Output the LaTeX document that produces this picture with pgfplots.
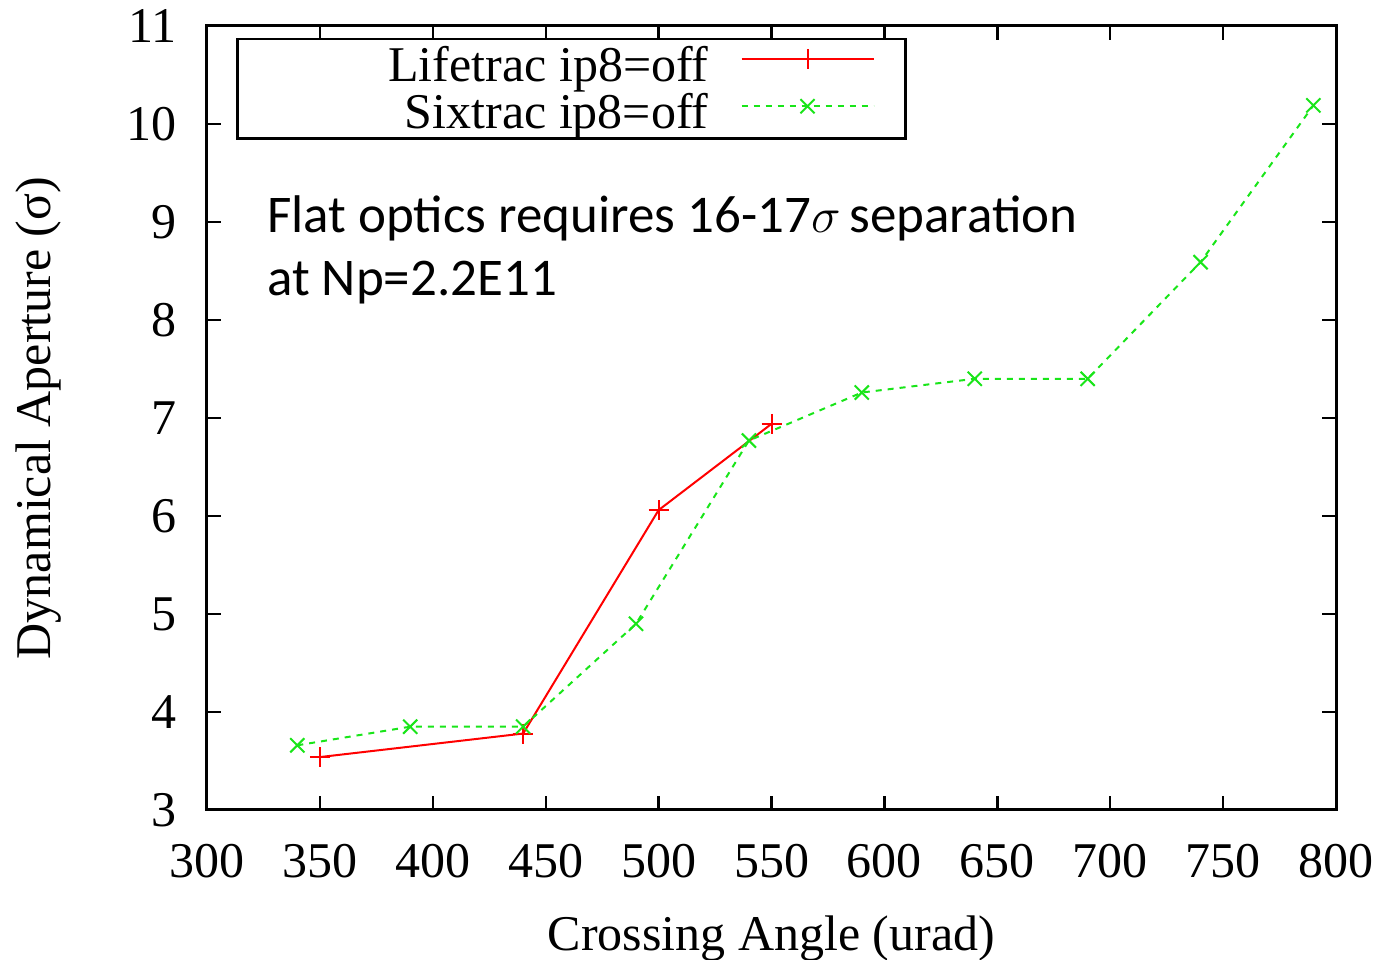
\documentclass[border=0pt]{standalone}
\usepackage{pgfplots}
\pgfplotsset{compat=1.18}
\usepackage{fontspec}
\setmainfont{Liberation Serif}
\newfontfamily\carlitofont{Carlito}
\definecolor{gred}{rgb}{1,0,0}
\definecolor{ggreen}{rgb}{0.1,0.9,0.1}
\begin{document}
\begin{tikzpicture}
\begin{axis}[name=ax,
  scale only axis, width=564.5pt, height=392pt,
  xmin=300, xmax=800, ymin=3, ymax=11,
  xtick={300,350,...,800}, ytick={3,4,...,11},
  tick align=inside, major tick length=7pt,
  axis line style={line width=1.5pt}, every tick/.style={line width=1.2pt, black},
  tick label style={font=\fontsize{25}{30}\selectfont},
  /pgf/number format/assume math mode=true,
  /pgf/number format/1000 sep={},
  xticklabel style={yshift=-13.5pt},
  yticklabel style={xshift=-11.5pt},
  xlabel={Crossing Angle (urad)},
  ylabel={Dynamical Aperture (σ)},
  label style={font=\fontsize{25}{30}\selectfont},
  xlabel style={yshift=-12pt},
  ylabel style={yshift=26pt},
  legend style={at={(rel axis cs:0.026,0.985)}, anchor=north west, line width=1.2pt, draw=black,
    font=\fontsize{25}{26}\selectfont, inner sep=1.5pt, row sep=0.5pt},
  legend cell align=right, legend plot pos=right,
  legend image code/.code={\draw[mark repeat=2,mark phase=2,yshift=3pt] plot coordinates {(0pt,0pt) (33pt,0pt) (66pt,0pt)}; \path (80pt,0pt);},
]
\addplot[gred, line width=1pt, mark=+, mark size=5pt, mark options={solid, line width=1pt}] coordinates {
(350,3.54) (440,3.78) (500,6.06) (550,6.94)};
\addlegendentry{\makebox[232pt][r]{Lifetrac ip8=off}\hspace*{14pt}}
\addplot[ggreen, line width=1pt, dashed, mark=x, mark size=5pt, mark options={solid, line width=1pt}] coordinates {
(340,3.66) (390,3.85) (440,3.85) (490,4.90) (540,6.77) (590,7.26) (640,7.40) (690,7.40) (740,8.59) (790,10.19)};
\addlegendentry{\makebox[232pt][r]{Sixtrac ip8=off}\hspace*{14pt}}
\node[anchor=base west, align=left, font=\carlitofont\fontsize{26.5}{32}\selectfont, inner sep=0pt] at (rel axis cs:0.053,0.737)
  {Flat optics requires 16-17$\sigma$\,separation};
\node[anchor=base west, align=left, font=\carlitofont\fontsize{26.5}{32}\selectfont, inner sep=0pt] at (rel axis cs:0.053,0.656)
  {at Np=2.2E11};
\end{axis}
\pgfresetboundingbox
\path (ax.south west) ++(-103.5pt,-75pt) coordinate (bl);
\path (ax.north east) ++(24.5pt,13pt) coordinate (tr);
\path (bl) rectangle (tr);
\end{tikzpicture}
\end{document}
